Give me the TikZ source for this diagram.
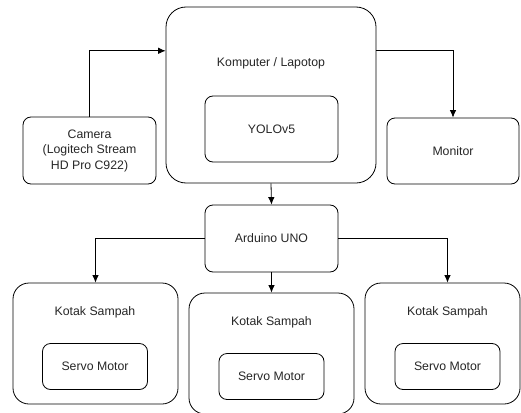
\documentclass[tikz,border=0pt]{standalone}
\usepackage{fontspec}
\setmainfont{Liberation Sans}
\usetikzlibrary{calc,arrows.meta}

\begin{document}
\begin{tikzpicture}[x=1pt,y=-1pt,>={Latex[length=7.5pt,width=6.5pt]},font=\fontsize{12.3}{15.5}\selectfont,text=black!85]
    \newcommand\tong[5]{\node[big,minimum width=#3pt] at (#2,#5) (#1) {};
                        \node at (#4,#5-31) (#1l) {Kotak Sampah};
                        \node[box,minimum width=105pt,minimum height=46pt] at (#4,#5+23) (#1s) {Servo Motor};}
    \tikzstyle{box}=[draw,rounded corners=8pt,inner sep=0pt,align=center,line width=0.8pt]
    \tikzstyle{big}=[draw,rounded corners=16pt,inner sep=0pt,minimum height=121pt,line width=0.8pt]
    \tikzstyle{e}=[->,line width=0.8pt]
    \useasboundingbox (0,0) rectangle (521,412);
    \node[draw,rounded corners=20pt,line width=0.8pt,minimum width=210pt,minimum height=176pt] at (271,95) (komp) {};
    \node at (271,63) (kompl) {Komputer / Lapotop};
    \node[box,minimum width=133pt,minimum height=66pt] at (271.5,129) (yolo) {YOLOv5};
    \node[box,minimum width=133pt,minimum height=67pt] at (89.5,150.5) (cam) {Camera\\(Logitech Stream\\HD Pro C922)};
    \node[box,minimum width=132pt,minimum height=66pt] at (453,151) (mon) {Monitor};
    \node[box,minimum width=133pt,minimum height=67pt] at (271.5,238.5) (ard) {Arduino UNO};
    \tong{k1}{95.5}{165}{95}{343.5}
    \tong{k2}{271.5}{165}{271.5}{353.5}
    \tong{k3}{442.5}{155}{447.5}{343.5}
    \draw[e] (cam.north) |- ($(komp.north west)!0.25!(komp.south west)$); % kamera ke komputer
    \draw[e] ($(komp.north east)!0.25!(komp.south east)$) -| (mon.north); % komputer ke monitor
    \draw[e] (komp.south) -- (ard.north);
    \draw[e] (ard.west) -| (k1.north);
    \draw[e] (ard.south) -- (k2.north);
    \draw[e] (ard.east) -| (k3s.north |- k3.north);
\end{tikzpicture}
\end{document}
